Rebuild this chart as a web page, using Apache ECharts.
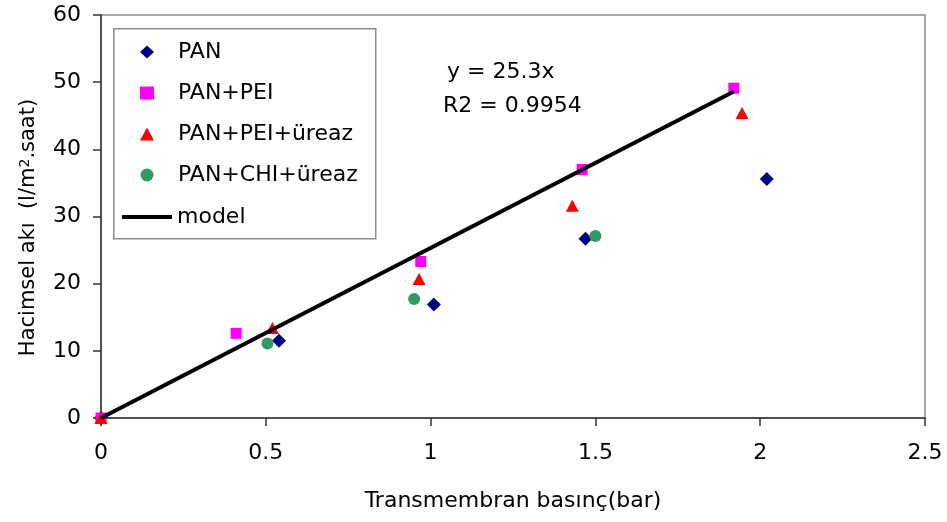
<!DOCTYPE html>
<html>
<head>
<meta charset="utf-8">
<script src="https://cdn.jsdelivr.net/npm/echarts@6/dist/echarts.min.js"></script>
<style>html,body{margin:0;padding:0;background:#fff}#c{width:947px;height:522px}</style>
</head>
<body>
<div id="c"></div>
<script>
// ---- data ----
var seriesNames = ['PAN', 'PAN+PEI', 'PAN+PEI+üreaz', 'PAN+CHI+üreaz', 'model'];
var panX = [0, 0.54, 1.01, 1.47, 2.02];
var panY = [0, 11.5, 16.9, 26.7, 35.6];
var peiX = [0, 0.41, 0.97, 1.46, 1.92];
var peiY = [0, 12.6, 23.3, 37.0, 49.1];
var peiUrX = [0, 0.52, 0.965, 1.43, 1.945];
var peiUrY = [0, 13.4, 20.7, 31.6, 45.4];
var chiUrX = [0.505, 0.95, 1.50];
var chiUrY = [11.1, 17.7, 27.1];
var modelX = [0, 1.92];
var modelY = [0, 48.6];
var xTicks = [0, 0.5, 1, 1.5, 2, 2.5];
var yTicks = [0, 10, 20, 30, 40, 50, 60];
var eqLines = ['y = 25.3x', 'R2 = 0.9954'];

function pairs(xs, ys) { return xs.map(function (x, i) { return [x, ys[i]]; }); }

var FONT = '"DejaVu Sans", sans-serif';
var FS = 22;
var chart = echarts.init(document.getElementById('c'), null, { renderer: 'canvas' });
chart.setOption({
  animation: false,
  backgroundColor: '#fff',
  textStyle: { fontFamily: FONT },
  grid: { left: 101, right: 22, top: 15, bottom: 104, show: true, borderColor: '#8c8c8c', borderWidth: 1.5, containLabel: false },
  xAxis: {
    type: 'value', min: xTicks[0], max: xTicks[xTicks.length - 1], interval: 0.5,
    splitLine: { show: false },
    axisLine: { show: true, onZero: false, lineStyle: { color: '#333', width: 1.5 } },
    axisTick: { show: true, inside: false, length: 8, lineStyle: { color: '#333', width: 1.5 } },
    axisLabel: { color: '#000', fontSize: FS, margin: 24, fontFamily: FONT },
    name: 'Transmembran basınç(bar)', nameLocation: 'middle', nameGap: 72,
    nameTextStyle: { color: '#000', fontSize: FS, fontFamily: FONT }
  },
  yAxis: {
    type: 'value', min: yTicks[0], max: yTicks[yTicks.length - 1], interval: 10,
    splitLine: { show: false },
    axisLine: { show: true, onZero: false, lineStyle: { color: '#333', width: 1.5 } },
    axisTick: { show: true, inside: false, length: 8, lineStyle: { color: '#333', width: 1.5 } },
    axisLabel: { color: '#000', fontSize: FS, margin: 20, fontFamily: FONT },
    name: 'Hacimsel akı  (l/m{sup|2}.saat)', nameLocation: 'middle', nameGap: 61, nameRotate: 90,
    nameTextStyle: { color: '#000', fontSize: 21, fontFamily: FONT, padding: [0, 22, 0, 0],
      rich: { sup: { fontSize: 14, verticalAlign: 'top', padding: [0, 0, 8, 0], color: '#000', fontFamily: FONT } } }
  },
  legend: [
    {
      data: seriesNames.slice(0, 4), orient: 'vertical', left: 140, top: 40, padding: 0,
      itemWidth: 14, itemHeight: 13, itemGap: 17,
      textStyle: { color: '#000', fontSize: FS, lineHeight: 24, fontFamily: FONT, padding: [0, 0, 0, 19] },
      selectedMode: false
    },
    {
      data: [{ name: 'model', icon: 'rect' }], orient: 'vertical', left: 122, top: 205, padding: 0,
      itemWidth: 50, itemHeight: 4, textStyle: { color: '#000', fontSize: FS, lineHeight: 24, fontFamily: FONT },
      selectedMode: false
    }
  ],
  graphic: [
    { type: 'rect', left: 113, top: 28, z: 3, shape: { width: 262, height: 210 },
      style: { fill: '#fff', stroke: '#8c8c8c', lineWidth: 1.5 } },
    { type: 'text', left: 447, top: 61, z: 5,
      style: { text: eqLines[0], font: FS + 'px ' + FONT, fill: '#000' } },
    { type: 'text', left: 443, top: 95, z: 5,
      style: { text: eqLines[1], font: FS + 'px ' + FONT, fill: '#000' } }
  ],
  series: [
    { name: seriesNames[0], type: 'scatter', symbol: 'diamond', symbolSize: [14, 14], data: pairs(panX, panY), itemStyle: { color: '#000080', opacity: 1 } },
    { name: seriesNames[1], type: 'scatter', symbol: 'rect', symbolSize: 11, data: pairs(peiX, peiY), itemStyle: { color: '#ff00ff', opacity: 1 } },
    { name: seriesNames[2], type: 'scatter', symbol: 'triangle', symbolSize: [13, 12], data: pairs(peiUrX, peiUrY), itemStyle: { color: '#ff0000', opacity: 1 } },
    { name: seriesNames[3], type: 'scatter', symbol: 'circle', symbolSize: 12, data: pairs(chiUrX, chiUrY), itemStyle: { color: '#339966', opacity: 1 } },
    { name: seriesNames[4], type: 'line', data: pairs(modelX, modelY), showSymbol: false, symbol: 'none',
      lineStyle: { color: '#000', width: 4 }, itemStyle: { color: '#000' }, z: 3 }
  ]
});
</script>
</body>
</html>
